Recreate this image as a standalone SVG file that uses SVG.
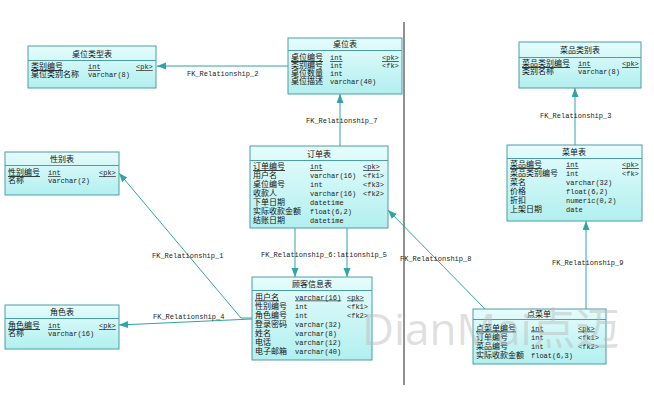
<svg xmlns="http://www.w3.org/2000/svg" width="654" height="400" viewBox="0 0 654 400">
<defs>
<linearGradient id="tg" x1="0" y1="0" x2="0" y2="1">
<stop offset="0" stop-color="#e6fcfc"/>
<stop offset="1" stop-color="#b2efef"/>
</linearGradient>
<marker id="ah" markerUnits="userSpaceOnUse" markerWidth="10" markerHeight="8" refX="9" refY="3.5" orient="auto">
<path d="M0,0 L9,3.5 L0,7 z" fill="#2fa5a5"/>
</marker>
<style>
.box{fill:url(#tg);stroke:#4b9ea3;stroke-width:1}
.hl{stroke:#4b9ea3;stroke-width:1}
.t{font-family:"Noto Sans CJK SC","Noto Sans CJK JP",sans-serif;font-size:8px;fill:#111}
.ti{font-family:"Noto Sans CJK SC","Noto Sans CJK JP",sans-serif;font-size:8px;fill:#111;text-anchor:middle}
.m{font-family:"Liberation Mono",monospace;font-size:7px;fill:#222}
.u{text-decoration:underline}
.c{stroke:#2fa5a5;stroke-width:1;fill:none}
.lb{font-family:"Liberation Mono",monospace;font-size:7px;fill:#222}
.wm{font-family:"Open Sans","Noto Sans CJK SC",sans-serif;font-size:44px;fill:#b8b8b8;fill-opacity:0.45}
</style>
</defs>
<rect width="654" height="400" fill="#fff"/>
<line x1="404" y1="22" x2="404" y2="385" stroke="#222" stroke-width="1"/>

<g id="connectors">
<line class="c" x1="288" y1="66" x2="157" y2="66" marker-end="url(#ah)"/>
<line class="c" x1="340" y1="146" x2="340" y2="94" marker-end="url(#ah)"/>
<line class="c" x1="575" y1="145" x2="575" y2="88" marker-end="url(#ah)"/>
<polyline class="c" points="252,318 241,318 119,173" marker-end="url(#ah)"/>
<line class="c" x1="252" y1="319" x2="119" y2="325" marker-end="url(#ah)"/>
<line class="c" x1="295" y1="228" x2="295" y2="277" marker-end="url(#ah)"/>
<line class="c" x1="347" y1="228" x2="347" y2="277" marker-end="url(#ah)"/>
<line class="c" x1="485" y1="309" x2="388" y2="210" marker-end="url(#ah)"/>
<line class="c" x1="586" y1="309" x2="586" y2="221" marker-end="url(#ah)"/>
<text class="lb" x="187" y="76">FK_Relationship_2</text>
<text class="lb" x="306" y="123">FK_Relationship_7</text>
<text class="lb" x="540" y="118">FK_Relationship_3</text>
<text class="lb" x="152" y="258">FK_Relationship_1</text>
<text class="lb" x="261" y="257">FK_Relationship_6:lationship_5</text>
<text class="lb" x="400" y="261">FK_Relationship_8</text>
<text class="lb" x="552" y="265">FK_Relationship_9</text>
<text class="lb" x="153" y="319">FK_Relationship_4</text>
</g>

<g id="t_zwlx">
<rect class="box" x="28" y="46" width="128" height="42"/>
<line class="hl" x1="28" y1="60.5" x2="156" y2="60.5"/>
<text class="ti" x="92" y="57">桌位类型表</text>
<text class="t u" x="31" y="69">类别编号</text><text class="m u" x="88" y="69">int</text><text class="m u" x="136" y="69">&lt;pk&gt;</text>
<text class="t" x="31" y="77">桌位类别名称</text><text class="m" x="88" y="77">varchar(8)</text>
</g>

<g id="t_zw">
<rect class="box" x="288" y="38" width="114" height="56"/>
<line class="hl" x1="288" y1="50.5" x2="402" y2="50.5"/>
<text class="ti" x="345" y="47">桌位表</text>
<text class="t u" x="291" y="60">桌位编号</text><text class="m u" x="330" y="60">int</text><text class="m u" x="382" y="60">&lt;pk&gt;</text>
<text class="t" x="291" y="68">类别编号</text><text class="m" x="330" y="68">int</text><text class="m" x="382" y="68">&lt;fk&gt;</text>
<text class="t" x="291" y="76">桌位数量</text><text class="m" x="330" y="76">int</text>
<text class="t" x="291" y="84">桌位描述</text><text class="m" x="330" y="84">varchar(40)</text>
</g>

<g id="t_cplb">
<rect class="box" x="519" y="42" width="122" height="46"/>
<line class="hl" x1="519" y1="57.5" x2="641" y2="57.5"/>
<text class="ti" x="580" y="53">菜品类别表</text>
<text class="t u" x="522" y="66">菜品类别编号</text><text class="m u" x="578" y="66">int</text><text class="m u" x="622" y="66">&lt;pk&gt;</text>
<text class="t" x="522" y="74">类别名称</text><text class="m" x="578" y="74">varchar(8)</text>
</g>

<g id="t_xb">
<rect class="box" x="5" y="152" width="114" height="43"/>
<line class="hl" x1="5" y1="165.5" x2="119" y2="165.5"/>
<text class="ti" x="62" y="162">性别表</text>
<text class="t u" x="8" y="175">性别编号</text><text class="m u" x="48" y="175">int</text><text class="m u" x="99" y="175">&lt;pk&gt;</text>
<text class="t" x="8" y="183">名称</text><text class="m" x="48" y="183">varchar(2)</text>
</g>

<g id="t_dd">
<rect class="box" x="250" y="146" width="138" height="82"/>
<line class="hl" x1="250" y1="160.5" x2="388" y2="160.5"/>
<text class="ti" x="319" y="157">订单表</text>
<text class="t u" x="253" y="169">订单编号</text><text class="m u" x="310" y="169">int</text><text class="m u" x="363" y="169">&lt;pk&gt;</text>
<text class="t" x="253" y="178">用户名</text><text class="m" x="310" y="178">varchar(16)</text><text class="m" x="363" y="178">&lt;fk1&gt;</text>
<text class="t" x="253" y="187">桌位编号</text><text class="m" x="310" y="187">int</text><text class="m" x="363" y="187">&lt;fk3&gt;</text>
<text class="t" x="253" y="196">收款人</text><text class="m" x="310" y="196">varchar(16)</text><text class="m" x="363" y="196">&lt;fk2&gt;</text>
<text class="t" x="253" y="205">下单日期</text><text class="m" x="310" y="205">datetime</text>
<text class="t" x="253" y="214">实际收款金额</text><text class="m" x="310" y="214">float(6,2)</text>
<text class="t" x="253" y="223">结账日期</text><text class="m" x="310" y="223">datetime</text>
</g>

<g id="t_cd">
<rect class="box" x="507" y="145" width="135" height="76"/>
<line class="hl" x1="507" y1="158.5" x2="642" y2="158.5"/>
<text class="ti" x="574" y="155">菜单表</text>
<text class="t u" x="510" y="167">菜品编号</text><text class="m u" x="566" y="167">int</text><text class="m u" x="622" y="167">&lt;pk&gt;</text>
<text class="t" x="510" y="176">菜品类别编号</text><text class="m" x="566" y="176">int</text><text class="m" x="622" y="176">&lt;fk&gt;</text>
<text class="t" x="510" y="185">菜名</text><text class="m" x="566" y="185">varchar(32)</text>
<text class="t" x="510" y="194">价格</text><text class="m" x="566" y="194">float(6,2)</text>
<text class="t" x="510" y="203">折扣</text><text class="m" x="566" y="203">numeric(0,2)</text>
<text class="t" x="510" y="212">上架日期</text><text class="m" x="566" y="212">date</text>
</g>

<g id="t_js">
<rect class="box" x="5" y="305" width="114" height="44"/>
<line class="hl" x1="5" y1="318.5" x2="119" y2="318.5"/>
<text class="ti" x="62" y="315">角色表</text>
<text class="t u" x="8" y="328">角色编号</text><text class="m u" x="48" y="328">int</text><text class="m u" x="99" y="328">&lt;pk&gt;</text>
<text class="t" x="8" y="336">名称</text><text class="m" x="48" y="336">varchar(16)</text>
</g>

<g id="t_gk">
<rect class="box" x="252" y="277" width="120" height="83"/>
<line class="hl" x1="252" y1="290.5" x2="372" y2="290.5"/>
<text class="ti" x="312" y="287">顾客信息表</text>
<text class="t u" x="255" y="299.5">用户名</text><text class="m u" x="295" y="299.5">varchar(16)</text><text class="m u" x="347" y="299.5">&lt;pk&gt;</text>
<text class="t" x="255" y="308.5">性别编号</text><text class="m" x="295" y="308.5">int</text><text class="m" x="347" y="308.5">&lt;fk1&gt;</text>
<text class="t" x="255" y="317.5">角色编号</text><text class="m" x="295" y="317.5">int</text><text class="m" x="347" y="317.5">&lt;fk2&gt;</text>
<text class="t" x="255" y="326.5">登录密码</text><text class="m" x="295" y="326.5">varchar(32)</text>
<text class="t" x="255" y="335.5">姓名</text><text class="m" x="295" y="335.5">varchar(8)</text>
<text class="t" x="255" y="344.5">电话</text><text class="m" x="295" y="344.5">varchar(12)</text>
<text class="t" x="255" y="353.5">电子邮箱</text><text class="m" x="295" y="353.5">varchar(40)</text>
</g>

<g id="t_dc">
<rect class="box" x="473" y="309" width="133" height="55"/>
<line class="hl" x1="473" y1="319.5" x2="606" y2="319.5"/>
<text class="ti" x="539" y="317">点菜单</text>
<text class="t u" x="476" y="330.5">点菜单编号</text><text class="m u" x="531" y="330.5">int</text><text class="m u" x="578" y="330.5">&lt;pk&gt;</text>
<text class="t" x="476" y="339.5">订单编号</text><text class="m" x="531" y="339.5">int</text><text class="m" x="578" y="339.5">&lt;fk1&gt;</text>
<text class="t" x="476" y="348.5">菜品编号</text><text class="m" x="531" y="348.5">int</text><text class="m" x="578" y="348.5">&lt;fk2&gt;</text>
<text class="t" x="476" y="357.5">实际收款金额</text><text class="m" x="531" y="357.5">float(6,3)</text>
</g>

<text class="wm" x="362" y="345">DianMai点迈</text>
</svg>
